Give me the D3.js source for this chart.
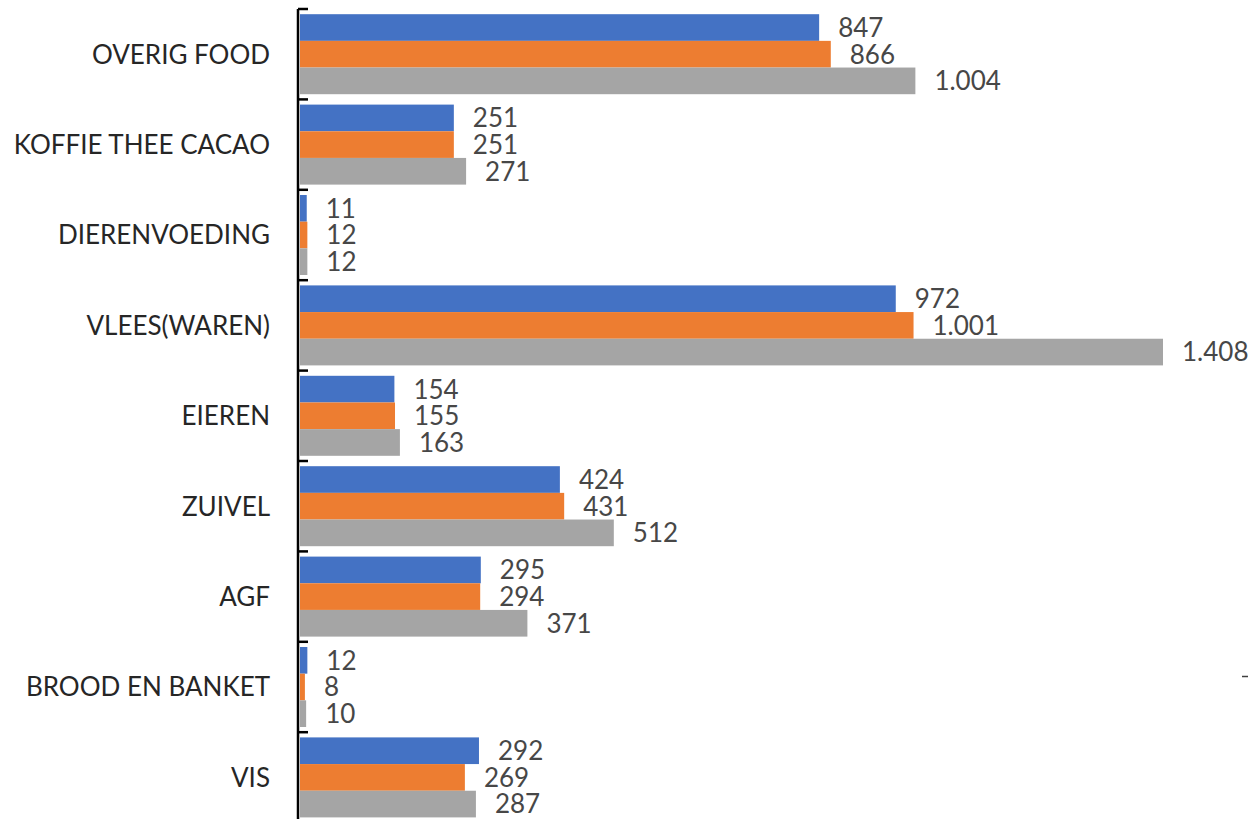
<!DOCTYPE html>
<html>
<head>
<meta charset="utf-8">
<script src="https://cdn.jsdelivr.net/npm/d3@7"></script>
<style>
  html, body { margin: 0; padding: 0; background: #fff; }
  svg { display: block; }
</style>
</head>
<body>
<svg id="chart" width="1249" height="819"></svg>
<script>
// Categories, top to bottom
const categories = ["OVERIG FOOD", "KOFFIE THEE CACAO", "DIERENVOEDING", "VLEES(WAREN)", "EIEREN", "ZUIVEL", "AGF", "BROOD EN BANKET", "VIS"];
// Three series per category (blue, orange, grey)
const seriesBlue   = [847, 251, 11, 972, 154, 424, 295, 12, 292];
const seriesOrange = [866, 251, 12, 1001, 155, 431, 294, 8, 269];
const seriesGrey   = [1004, 271, 12, 1408, 163, 512, 371, 10, 287];
const seriesKeys = ["blue", "orange", "grey"];
const seriesColors = ["#4472C4", "#ED7D31", "#A5A5A5"];

const data = categories.map((c, i) => ({
  cat: c,
  values: [seriesBlue[i], seriesOrange[i], seriesGrey[i]]
}));

const svg = d3.select("#chart");
const axisX = 298;
const plotTop = 9;
const step = 90.4;

const x = d3.scaleLinear().domain([0, 1408]).range([axisX + 2, 1163]);
const y = d3.scaleBand().domain(categories)
  .range([plotTop, plotTop + step * categories.length])
  .paddingInner(0.115).paddingOuter(0.0575);
const ySub = d3.scaleBand().domain(seriesKeys).range([0, y.bandwidth()]);

const nl = d3.formatLocale({ decimal: ",", thousands: ".", grouping: [3], currency: ["€", ""] });
const fmt = nl.format(",d");

const font = "Lato, 'Open Sans', sans-serif";

// Bars
const groups = svg.append("g").selectAll("g").data(data).join("g")
  .attr("transform", d => `translate(0,${y(d.cat)})`);

groups.selectAll("rect")
  .data(d => d.values.map((v, k) => ({ v, k })))
  .join("rect")
  .attr("x", x(0))
  .attr("y", d => ySub(seriesKeys[d.k]))
  .attr("width", d => x(d.v) - x(0))
  .attr("height", ySub.bandwidth())
  .attr("fill", d => seriesColors[d.k]);

// Value labels
groups.selectAll("text")
  .data(d => d.values.map((v, k) => ({ v, k })))
  .join("text")
  .attr("x", d => x(d.v) + 19)
  .attr("y", d => ySub(seriesKeys[d.k]) + ySub.bandwidth() / 2)
  .attr("dy", "0.36em")
  .attr("font-family", font)
  .attr("font-size", 26)
  .attr("fill", "#474747")
  .text(d => fmt(d.v));

// Category axis: vertical line with ticks on band boundaries
const axisG = svg.append("g");
axisG.append("line")
  .attr("x1", axisX).attr("x2", axisX)
  .attr("y1", plotTop).attr("y2", 819)
  .attr("stroke", "#000").attr("stroke-width", 2.5);

const boundaries = d3.range(categories.length + 1).map(i => plotTop + i * step);
axisG.selectAll("line.tick").data(boundaries).join("line")
  .attr("class", "tick")
  .attr("x1", axisX).attr("x2", axisX + 10)
  .attr("y1", d => d).attr("y2", d => d)
  .attr("stroke", "#000").attr("stroke-width", 2.5);

axisG.selectAll("text").data(categories).join("text")
  .attr("x", axisX - 28)
  .attr("y", d => y(d) + y.bandwidth() / 2)
  .attr("dy", "0.36em")
  .attr("text-anchor", "end")
  .attr("font-family", font)
  .attr("font-size", 26)
  .attr("fill", "#262626")
  .text(d => d);

// small dash at right edge
svg.append("line")
  .attr("x1", 1242).attr("x2", 1248)
  .attr("y1", 676.5).attr("y2", 676.5)
  .attr("stroke", "#404040").attr("stroke-width", 1.5);
</script>
</body>
</html>
